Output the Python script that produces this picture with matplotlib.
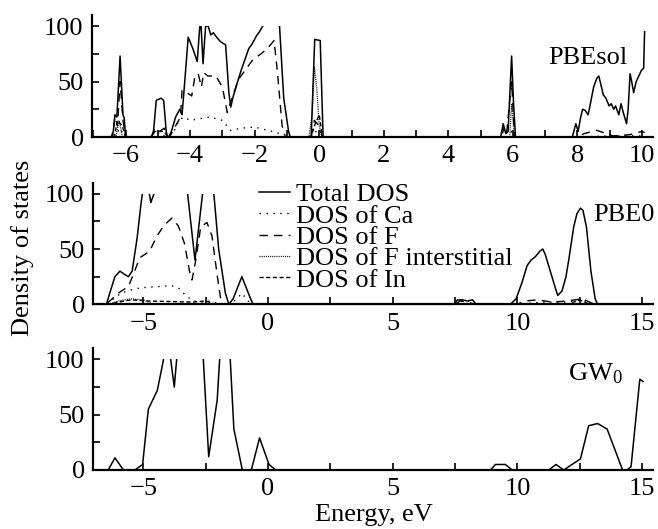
import numpy as np
import matplotlib
matplotlib.use('Agg')
import matplotlib.pyplot as plt
from matplotlib.patches import Rectangle
from matplotlib.ticker import MultipleLocator

plt.rcParams['font.family'] = ['Liberation Serif', 'DejaVu Serif']
plt.rcParams['mathtext.fontset'] = 'custom'
plt.rcParams['mathtext.rm'] = 'Liberation Serif'
plt.rcParams['mathtext.it'] = 'Liberation Serif:italic'

# ---- PBEsol (top panel) ----
pbesol_tot_e = [-7.0, -6.45, -6.38, -6.33, -6.27, -6.17, -6.08, -6.04, -6.00,
                -5.22, -5.14, -5.05, -4.90, -4.82, -4.74, -4.70,
                -4.64, -4.55, -4.45, -4.32, -4.25, -4.18, -4.06, -3.92, -3.78, -3.70, -3.66,
                -3.60, -3.52, -3.44, -3.36, -3.28, -3.18, -3.06, -2.90, -2.80, -2.74, -2.68,
                -2.55, -2.42, -2.30, -2.18, -2.10, -2.02, -1.95, -1.85, -1.75, -1.60, -1.30,
                -1.23, -1.10, -0.95, -0.90,
                -0.25, -0.14, 0.03, 0.12,
                5.62, 5.70, 5.78, 5.85, 5.96, 6.02, 6.08,
                7.84, 7.95, 8.02, 8.10, 8.16, 8.24, 8.33, 8.40, 8.50, 8.60, 8.66, 8.72, 8.80,
                8.88, 8.98, 9.05, 9.12, 9.18, 9.28, 9.35, 9.42, 9.52, 9.57, 9.63, 9.68, 9.74,
                9.82, 9.90, 9.98, 10.05, 10.08]
pbesol_tot = [0, 0, 5, 20, 18, 73, 20, 17, 0,
              0, 3, 33, 35, 33, 5, 0,
              0, 8, 18, 25, 20, 45, 90, 80, 68, 100, 100,
              66, 100, 100, 92, 94, 90, 86, 83, 40, 27, 35,
              48, 60, 70, 80, 83, 87, 91, 95, 100, 104, 104,
              100, 35, 5, 0,
              0, 88, 87, 0,
              0, 12, 3, 5, 73, 30, 0,
              0, 12, 5, 18, 25, 24, 20, 30, 45, 53, 55, 48, 38,
              35, 28, 30, 25, 28, 20, 30, 22, 12, 25, 57, 50, 40,
              50, 55, 60, 62, 95]

pbesol_f_e = [-7.0, -6.40, -6.33, -6.25, -6.17, -6.08, -6.00,
              -5.20, -5.10, -4.95, -4.80, -4.70, -4.60, -4.45, -4.30, -4.25, -4.10, -3.95,
              -3.85, -3.75, -3.65, -3.58, -3.45, -3.20, -3.00, -2.85, -2.70, -2.50, -2.30,
              -2.05, -1.80, -1.60, -1.40, -1.30, -1.15, -1.05,
              -0.25, -0.15, 0.0, 0.10,
              5.65, 5.72, 5.80, 5.96, 6.05,
              8.00, 8.20, 8.60, 8.90, 9.10, 9.60, 10.00, 10.08]
pbesol_f = [0, 0, 18, 10, 50, 15, 0,
            0, 8, 5, 8, 0, 2, 10, 18, 42, 40, 37,
            55, 57, 45, 58, 55, 55, 45, 22, 35, 52, 60,
            70, 75, 80, 87, 60, 10, 0,
            0, 15, 10, 0,
            0, 8, 2, 50, 0,
            0, 3, 6, 3, 1, 2, 5, 4]

pbesol_ca_e = [-7.0, -6.35, -6.17, -6.05, -5.10, -4.95, -4.75, -4.50, -4.35, -4.20,
               -4.00, -3.60, -3.40, -3.00, -2.75, -2.40, -2.00, -1.60, -1.30, -1.10,
               -0.25, -0.12, 0.05, 0.12, 5.90, 5.96, 6.05, 8.0, 9.0, 10.08]
pbesol_ca = [0, 0, 8, 0, 0, 4, 0, 5, 15, 18,
             15, 17, 18, 15, 6, 8, 9, 6, 4, 0,
             0, 5, 3, 0, 0, 5, 0, 0, 1, 1]

pbesol_fi_e = [-7.0, -6.30, -6.20, -6.10, -0.32, -0.22, -0.15, -0.08, 0.0, 0.08,
               5.90, 5.96, 6.05, 10.08]
pbesol_fi = [0, 0, 15, 0, 0, 20, 63, 45, 10, 0, 0, 30, 0, 0]

pbesol_in_e = [-7.0, -6.35, -6.25, -6.10, -6.00, -5.20, -5.10, -4.80, -4.70,
               -0.25, -0.15, 0.0, 0.10, 10.08]
pbesol_in = [0, 0, 15, 10, 0, 0, 5, 5, 0, 0, 10, 20, 0, 0]

# ---- PBE0 (middle panel) ----
pbe0_tot_e = [-7.0, -6.48, -6.35, -6.14, -5.94, -5.75, -5.60, -5.45, -5.25, -5.10,
              -4.98, -4.85, -4.70, -4.45, -3.90, -3.30, -2.93, -2.55, -2.22, -1.98,
              -1.71, -1.57, -1.40, -1.05, -0.70, -0.60,
              7.45, 7.60, 7.80, 8.00, 8.20, 8.35,
              9.72, 9.95, 10.19, 10.39, 10.55, 10.72, 10.90, 11.02, 11.12, 11.32, 11.52,
              11.62, 11.79, 11.95, 12.06, 12.26, 12.39, 12.53, 12.63, 12.77, 12.95, 13.12,
              13.22, 15.4]
pbe0_tot = [0, 0, 10, 25, 30, 27, 25, 30, 60, 90,
            110, 112, 92, 108, 140, 115, 40, 115, 112, 50,
            10, 0, 5, 25, 5, 0,
            0, 4, 4, 3, 4, 0,
            0, 5, 20, 35, 40, 43, 48, 50, 45, 30, 15,
            8, 12, 25, 40, 70, 82, 87, 85, 70, 30, 5,
            0, 0]

pbe0_f_e = [-7.0, -6.50, -6.30, -5.95, -5.60, -5.35, -5.15, -4.75, -4.45, -4.15, -3.85,
            -3.60, -3.35, -3.15, -3.05, -2.92, -2.70, -2.45, -2.25, -2.12, -2.00, -1.90,
            -1.78, 7.50, 7.70, 8.00, 8.30, 10.00, 10.30, 10.80, 11.40, 12.00, 12.60, 12.90,
            13.10, 15.4]
pbe0_f = [0, 0, 4, 11, 16, 30, 42, 48, 62, 72, 78,
          71, 55, 30, 22, 37, 70, 74, 62, 40, 20, 5,
          0, 0, 3, 2, 0, 0, 3, 4, 2, 3, 5, 2,
          0, 0]

pbe0_ca_e = [-7.0, -6.45, -6.20, -5.90, -5.50, -5.10, -4.40, -3.90, -3.60, -3.30, -3.00,
             -2.60, -2.30, -1.90, -1.50, -1.25, -1.05, -0.80, -0.60,
             7.50, 7.80, 8.10, 8.30, 10.0, 11.0, 12.0, 12.6, 13.0, 15.4]
pbe0_ca = [0, 0, 5, 10, 13, 15, 16, 17, 15, 8, 3,
           2, 3, 0, 0, 5, 10, 3, 0,
           0, 4, 3, 0, 0, 2, 2, 4, 0, 0]

pbe0_fi_e = [-7.0, -6.40, -6.00, -5.50, -5.00, -4.60, 15.4]
pbe0_fi = [0, 0, 3, 5, 4, 0, 0]

pbe0_in_e = [-7.0, -6.40, -6.00, -5.50, -4.80, -3.00, -2.50, -2.10, 12.0, 12.5, 12.9, 15.4]
pbe0_in = [0, 0, 2, 4, 3, 2, 3, 0, 0, 4, 0, 0]

# ---- GW0 (bottom panel) ----
gw0_tot_e = [-7.0, -6.41, -6.14, -5.80, -5.34, -5.15, -5.03, -4.80, -4.44, -4.19, -4.05,
             -3.76, -3.55, -2.62, -2.38, -2.04, -1.90, -1.55, -1.37, -1.03, -0.67, -0.34,
             0.04, 0.31, 8.92, 9.12, 9.52, 9.79, 11.26, 11.55, 11.86, 12.19, 12.53, 12.86,
             13.22, 13.60, 14.22, 14.40, 14.56, 14.91, 15.04]
gw0_tot = [0, 0, 11, 0, 0, 3, 5, 55, 72, 100, 125,
           75, 130, 110, 12, 63, 115, 115, 37, 0, 0, 29,
           5, 0, 0, 5, 5, 0, 0, 5, 0, 5, 10, 40,
           42, 37, 0, 0, 3, 82, 80]

FS = 19

solid = dict(color='black', lw=1.1, linestyle='-')
dot_ca = dict(color='black', lw=1.0, linestyle=(0, (1, 4)))
dash_f = dict(color='black', lw=1.0, linestyle=(0, (6, 4.5)))
dot_fi = dict(color='black', lw=0.9, linestyle=(0, (0.8, 0.9)))
dash_in = dict(color='black', lw=1.0, linestyle=(0, (3, 1.8)))

fig = plt.figure(figsize=(6.58, 5.29), dpi=100)
W, H = 658.0, 529.0


def make_ax(left, right, top, bottom, xlim):
    ax = fig.add_axes([left / W, 1 - bottom / H, (right - left) / W, (bottom - top) / H])
    ax.set_xlim(*xlim)
    ax.set_ylim(0, 110)
    for s in ['top', 'right']:
        ax.spines[s].set_visible(False)
    for s in ['left', 'bottom']:
        ax.spines[s].set_linewidth(1.6)
    ax.tick_params(which='both', direction='in', length=5, width=1.2,
                   labelsize=FS, pad=6)
    ax.yaxis.set_major_locator(MultipleLocator(50))
    ax.yaxis.set_minor_locator(MultipleLocator(25))
    return ax


def clip_lines(ax, lines):
    rect = Rectangle((-20, -10), 60, 110, transform=ax.transData,
                     facecolor='none', edgecolor='none')
    for ln in lines:
        ln.set_clip_path(rect)


ax1 = make_ax(92, 653, 15, 137, (-7.04, 10.34))
ax1.xaxis.set_major_locator(MultipleLocator(2))
ax1.xaxis.set_minor_locator(MultipleLocator(1))
l1 = []
l1 += ax1.plot(pbesol_ca_e, pbesol_ca, **dot_ca)
l1 += ax1.plot(pbesol_f_e, pbesol_f, **dash_f)
l1 += ax1.plot(pbesol_fi_e, pbesol_fi, **dot_fi)
l1 += ax1.plot(pbesol_in_e, pbesol_in, **dash_in)
l1 += ax1.plot(pbesol_tot_e, pbesol_tot, **solid)
clip_lines(ax1, l1)
ax1.text(0.955, 0.647, 'PBEsol', transform=ax1.transAxes, ha='right', va='center',
         fontsize=FS)

ax2 = make_ax(93, 653, 182.7, 304.3, (-7.02, 15.44))
ax2.xaxis.set_major_locator(MultipleLocator(5))
ax2.xaxis.set_minor_locator(MultipleLocator(2.5))
h_ca, = ax2.plot(pbe0_ca_e, pbe0_ca, label='DOS of Ca', **dot_ca)
h_f, = ax2.plot(pbe0_f_e, pbe0_f, label='DOS of F', **dash_f)
h_fi, = ax2.plot(pbe0_fi_e, pbe0_fi, label='DOS of F interstitial', **dot_fi)
h_in, = ax2.plot(pbe0_in_e, pbe0_in, label='DOS of In', **dash_in)
h_tot, = ax2.plot(pbe0_tot_e, pbe0_tot, label='Total DOS', **solid)
clip_lines(ax2, [h_ca, h_f, h_fi, h_in, h_tot])
ax2.legend(handles=[h_tot, h_ca, h_f, h_fi, h_in], loc='upper left',
           bbox_to_anchor=(0.296, 1.0), frameon=False, fontsize=FS,
           handlelength=1.2, handletextpad=0.2, labelspacing=-0.08,
           borderpad=0, borderaxespad=0)
ax2.text(0.893, 0.735, 'PBE0', transform=ax2.transAxes, ha='left', va='center',
         fontsize=FS)

ax3 = make_ax(93, 653, 348.3, 470, (-7.02, 15.44))
ax3.xaxis.set_major_locator(MultipleLocator(5))
ax3.xaxis.set_minor_locator(MultipleLocator(2.5))
l3 = ax3.plot(gw0_tot_e, gw0_tot, **solid)
clip_lines(ax3, l3)
ax3.text(0.848, 0.795, r'GW$_0$', transform=ax3.transAxes, ha='left', va='center',
         fontsize=FS)

fig.text(23 / W, 1 - 248 / H, 'Density of states', rotation=90, ha='center',
         va='center', fontsize=FS)
fig.text(374 / W, 1 - 515 / H, 'Energy, eV', ha='center', va='center', fontsize=FS)

fig.savefig('out.png', dpi=100)
